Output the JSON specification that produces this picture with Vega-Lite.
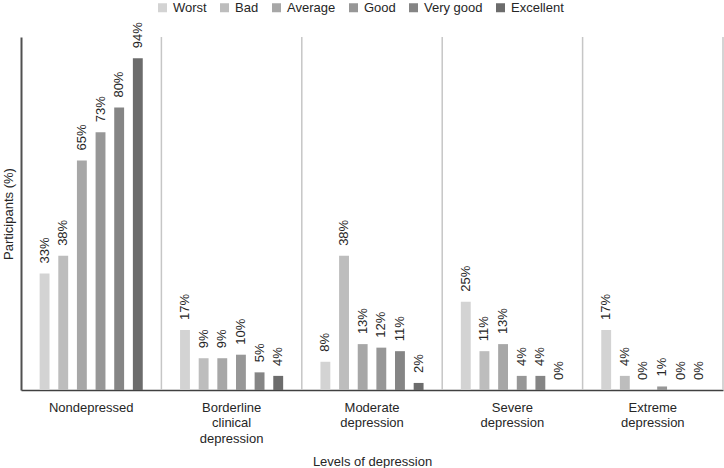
{
  "$schema": "https://vega.github.io/schema/vega-lite/v6.json",
  "autosize": {"type": "none"},
  "padding": {"left": 21, "top": 37, "right": 1, "bottom": 78},
  "width": 702,
  "height": 353,
  "config": {
    "view": {"stroke": null},
    "font": "Liberation Sans",
    "axis": {"labelFont": "Liberation Sans", "titleFont": "Liberation Sans", "labelFontSize": 13, "titleFontSize": 13, "titleFontWeight": "normal", "labelColor": "#262626", "titleColor": "#262626"},
    "legend": {"labelFont": "Liberation Sans", "labelFontSize": 13, "labelColor": "#262626"}
  },
  "datasets": {
    "scores": [
      {"group": "Nondepressed", "rating": "Worst", "value": 33},
      {"group": "Nondepressed", "rating": "Bad", "value": 38},
      {"group": "Nondepressed", "rating": "Average", "value": 65},
      {"group": "Nondepressed", "rating": "Good", "value": 73},
      {"group": "Nondepressed", "rating": "Very good", "value": 80},
      {"group": "Nondepressed", "rating": "Excellent", "value": 94},
      {"group": "Borderline clinical depression", "rating": "Worst", "value": 17},
      {"group": "Borderline clinical depression", "rating": "Bad", "value": 9},
      {"group": "Borderline clinical depression", "rating": "Average", "value": 9},
      {"group": "Borderline clinical depression", "rating": "Good", "value": 10},
      {"group": "Borderline clinical depression", "rating": "Very good", "value": 5},
      {"group": "Borderline clinical depression", "rating": "Excellent", "value": 4},
      {"group": "Moderate depression", "rating": "Worst", "value": 8},
      {"group": "Moderate depression", "rating": "Bad", "value": 38},
      {"group": "Moderate depression", "rating": "Average", "value": 13},
      {"group": "Moderate depression", "rating": "Good", "value": 12},
      {"group": "Moderate depression", "rating": "Very good", "value": 11},
      {"group": "Moderate depression", "rating": "Excellent", "value": 2},
      {"group": "Severe depression", "rating": "Worst", "value": 25},
      {"group": "Severe depression", "rating": "Bad", "value": 11},
      {"group": "Severe depression", "rating": "Average", "value": 13},
      {"group": "Severe depression", "rating": "Good", "value": 4},
      {"group": "Severe depression", "rating": "Very good", "value": 4},
      {"group": "Severe depression", "rating": "Excellent", "value": 0},
      {"group": "Extreme depression", "rating": "Worst", "value": 17},
      {"group": "Extreme depression", "rating": "Bad", "value": 4},
      {"group": "Extreme depression", "rating": "Average", "value": 0},
      {"group": "Extreme depression", "rating": "Good", "value": 1},
      {"group": "Extreme depression", "rating": "Very good", "value": 0},
      {"group": "Extreme depression", "rating": "Excellent", "value": 0}
    ],
    "groups": [
      {"group": "Nondepressed"},
      {"group": "Borderline clinical depression"},
      {"group": "Moderate depression"},
      {"group": "Severe depression"},
      {"group": "Extreme depression"}
    ]
  },
  "layer": [
    {
      "data": {"name": "scores"},
      "mark": {"type": "bar"},
      "encoding": {
        "x": {
          "field": "group", "type": "nominal",
          "sort": ["Nondepressed", "Borderline clinical depression", "Moderate depression", "Severe depression", "Extreme depression"],
          "scale": {"paddingInner": 0, "paddingOuter": 0},
          "axis": {
            "title": "Levels of depression",
            "labelAngle": 0,
            "labelAlign": "center",
            "bandPosition": 0.5,
            "ticks": false,
            "labelPadding": 11,
            "labelLineHeight": 15.5,
            "labelExpr": "split(datum.label, ' ')",
            "domainColor": "#404040",
            "domainWidth": 1.5,
            "titlePadding": 10
          }
        },
        "xOffset": {
          "field": "rating", "type": "nominal",
          "sort": ["Worst", "Bad", "Average", "Good", "Very good", "Excellent"],
          "scale": {"paddingInner": 0.47, "paddingOuter": 1.2}
        },
        "y": {
          "field": "value", "type": "quantitative",
          "scale": {"domain": [0, 100], "nice": false},
          "axis": {"title": "Participants (%)", "labels": false, "ticks": false, "grid": false, "domainColor": "#505050", "domainWidth": 2, "titlePadding": 6}
        },
        "color": {
          "field": "rating", "type": "nominal",
          "sort": ["Worst", "Bad", "Average", "Good", "Very good", "Excellent"],
          "scale": {
            "domain": ["Worst", "Bad", "Average", "Good", "Very good", "Excellent"],
            "range": ["#d3d3d3", "#bdbdbd", "#a7a7a7", "#979797", "#858585", "#6c6c6c"]
          },
          "legend": {
            "title": null,
            "orient": "none",
            "direction": "horizontal",
            "legendX": 135,
            "legendY": -36,
            "symbolType": "square",
            "symbolSize": 81,
            "symbolStrokeWidth": 0,
            "labelOffset": 4,
            "columnPadding": 11
          }
        }
      }
    },
    {
      "data": {"name": "groups"},
      "mark": {"type": "rule", "color": "#c6c6c6", "strokeWidth": 1.5},
      "encoding": {
        "x": {"field": "group", "type": "nominal", "bandPosition": 1,
              "sort": ["Nondepressed", "Borderline clinical depression", "Moderate depression", "Severe depression", "Extreme depression"]},
        "y": {"datum": 0, "type": "quantitative"},
        "y2": {"datum": 100}
      }
    },
    {
      "data": {"name": "scores"},
      "transform": [{"calculate": "datum.value + '%'", "as": "label"}],
      "mark": {"type": "text", "angle": 270, "align": "left", "baseline": "middle", "dx": 10, "fontSize": 13, "color": "#262626"},
      "encoding": {
        "x": {"field": "group", "type": "nominal",
              "sort": ["Nondepressed", "Borderline clinical depression", "Moderate depression", "Severe depression", "Extreme depression"]},
        "xOffset": {"field": "rating", "type": "nominal", "sort": ["Worst", "Bad", "Average", "Good", "Very good", "Excellent"]},
        "y": {"field": "value", "type": "quantitative"},
        "text": {"field": "label", "type": "nominal"}
      }
    }
  ],
  "resolve": {"scale": {"x": "shared", "xOffset": "shared"}}
}
